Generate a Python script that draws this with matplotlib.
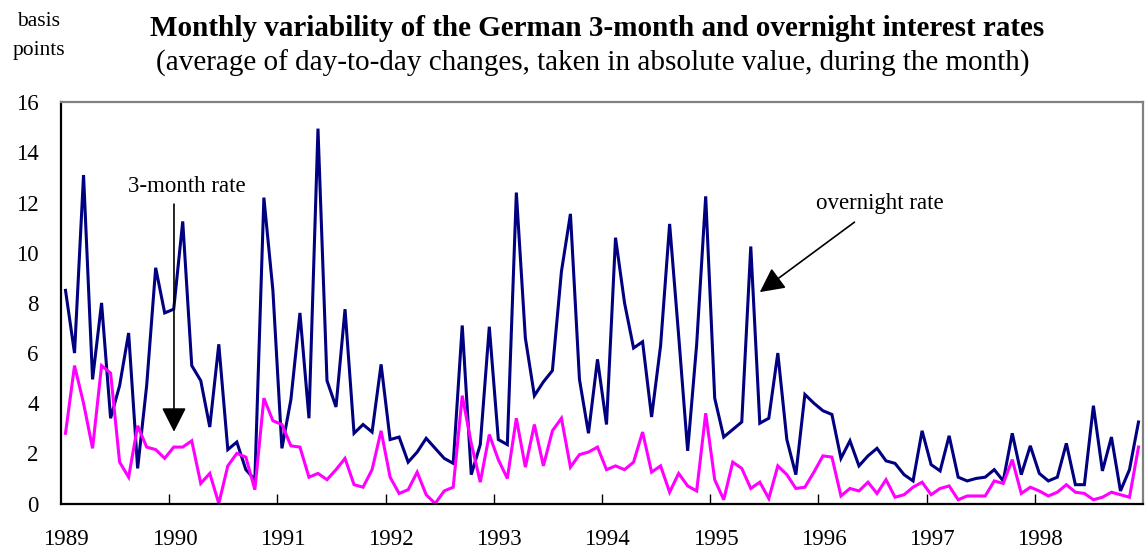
import numpy as np
import matplotlib
matplotlib.use("Agg")
import matplotlib.pyplot as plt

# monthly values, Jan 1989 - Dec 1998 (basis points)
overnight = [
    8.5, 6.0, 13.1, 4.95, 8.0, 3.4, 4.7, 6.8, 1.4, 4.7, 9.4, 7.6,
    7.75, 11.25, 5.5, 4.9, 3.05, 6.35, 2.15, 2.45, 1.35, 0.95, 12.2, 8.5,
    2.2, 4.15, 7.6, 3.4, 14.95, 4.9, 3.85, 7.75, 2.8, 3.15, 2.85, 5.55,
    2.55, 2.65, 1.65, 2.05, 2.6, 2.2, 1.8, 1.6, 7.1, 1.15, 2.35, 7.05,
    2.55, 2.35, 12.4, 6.6, 4.3, 4.85, 5.3, 9.25, 11.55, 4.95, 2.8, 5.75,
    3.15, 10.6, 8.0, 6.2, 6.45, 3.45, 6.3, 11.15, 6.7, 2.1, 6.35, 12.25,
    4.2, 2.65, 2.95, 3.25, 10.25, 3.2, 3.4, 6.0, 2.55, 1.15, 4.35, 4.0,
    3.7, 3.55, 1.8, 2.5, 1.5, 1.9, 2.2, 1.7, 1.6, 1.15, 0.9, 2.9,
    1.55, 1.3, 2.7, 1.05, 0.9, 1.0, 1.05, 1.35, 0.9, 2.8, 1.15, 2.3,
    1.2, 0.9, 1.05, 2.4, 0.75, 0.75, 3.9, 1.3, 2.65, 0.5, 1.35, 3.25,
]
three_month = [
    2.8, 5.5, 4.0, 2.2, 5.5, 5.2, 1.65, 1.05, 3.1, 2.25, 2.15, 1.8,
    2.25, 2.25, 2.5, 0.8, 1.2, 0.0, 1.5, 2.0, 1.85, 0.55, 4.2, 3.3,
    3.15, 2.3, 2.25, 1.05, 1.2, 0.95, 1.35, 1.8, 0.75, 0.65, 1.35, 2.9,
    1.05, 0.4, 0.55, 1.25, 0.35, 0.0, 0.5, 0.65, 4.3, 2.4, 0.85, 2.75,
    1.75, 1.0, 3.4, 1.45, 3.15, 1.5, 2.9, 3.4, 1.45, 1.95, 2.05, 2.25,
    1.35, 1.5, 1.35, 1.65, 2.85, 1.25, 1.5, 0.45, 1.2, 0.7, 0.5, 3.6,
    0.95, 0.15, 1.65, 1.4, 0.6, 0.85, 0.2, 1.5, 1.15, 0.6, 0.65, 1.25,
    1.9, 1.85, 0.3, 0.6, 0.5, 0.85, 0.4, 0.95, 0.25, 0.35, 0.65, 0.85,
    0.35, 0.6, 0.7, 0.15, 0.3, 0.3, 0.3, 0.9, 0.8, 1.75, 0.4, 0.65,
    0.5, 0.3, 0.45, 0.75, 0.45, 0.4, 0.15, 0.25, 0.45, 0.35, 0.25, 2.25,
]
years = [str(y) for y in range(1989, 1999)]

plt.rcParams['font.family'] = ['Liberation Serif', 'DejaVu Serif']

W, H = 1147, 551
fig = plt.figure(figsize=(W / 100, H / 100), dpi=100)
ax = fig.add_axes([61 / W, 1 - 503.5 / H, 1082 / W, (503.5 - 102.3) / H])

months = np.arange(len(overnight)) + 0.5
ax.plot(months, overnight, color='#000080', lw=2.2, solid_joinstyle='miter')
ax.plot(months, three_month, color='#FF00FF', lw=2.2, solid_joinstyle='miter')

ax.set_xlim(0, len(overnight))
ax.set_ylim(0, 16)
ax.set_yticks(np.arange(0, 17, 2))
ax.tick_params(axis='y', length=0, pad=16, labelsize=16.5)
ax.set_xticks(np.arange(12, len(overnight), 12))
ax.tick_params(axis='x', direction='in', length=7, width=1, labelbottom=False)
for i, y in enumerate(years):
    ax.text(i * 12 + 0.6, -1.45, y, ha='center', va='center', fontsize=16.5)

for s in ['left', 'bottom']:
    ax.spines[s].set_color('black')
    ax.spines[s].set_linewidth(1.6)
for s in ['top', 'right']:
    ax.spines[s].set_color('#808080')
    ax.spines[s].set_linewidth(1.6)

arrow = dict(arrowstyle='-|>,head_length=0.75,head_width=0.38', mutation_scale=20,
             color='black', lw=1.2, shrinkA=0, shrinkB=0)
ax.annotate('', xy=(12.53, 2.86), xytext=(12.53, 11.94), arrowprops=arrow)
ax.text(13.97, 12.66, '3-month rate', ha='center', va='center', fontsize=16.5)
ax.annotate('', xy=(77.5, 8.43), xytext=(88.0, 11.22), arrowprops=arrow)
ax.text(90.8, 11.98, 'overnight rate', ha='center', va='center', fontsize=16.5)

fig.text(597 / W, 1 - 28 / H,
         'Monthly variability of the German 3-month and overnight interest rates',
         ha='center', va='center', fontsize=21, fontweight='bold')
fig.text(593 / W, 1 - 63 / H,
         '(average of day-to-day changes, taken in absolute value, during the month)',
         ha='center', va='center', fontsize=21)
fig.text(39 / W, 1 - 21 / H, 'basis', ha='center', va='center', fontsize=15.5)
fig.text(39 / W, 1 - 51 / H, 'points', ha='center', va='center', fontsize=15.5)

fig.savefig('out.png', dpi=100)
